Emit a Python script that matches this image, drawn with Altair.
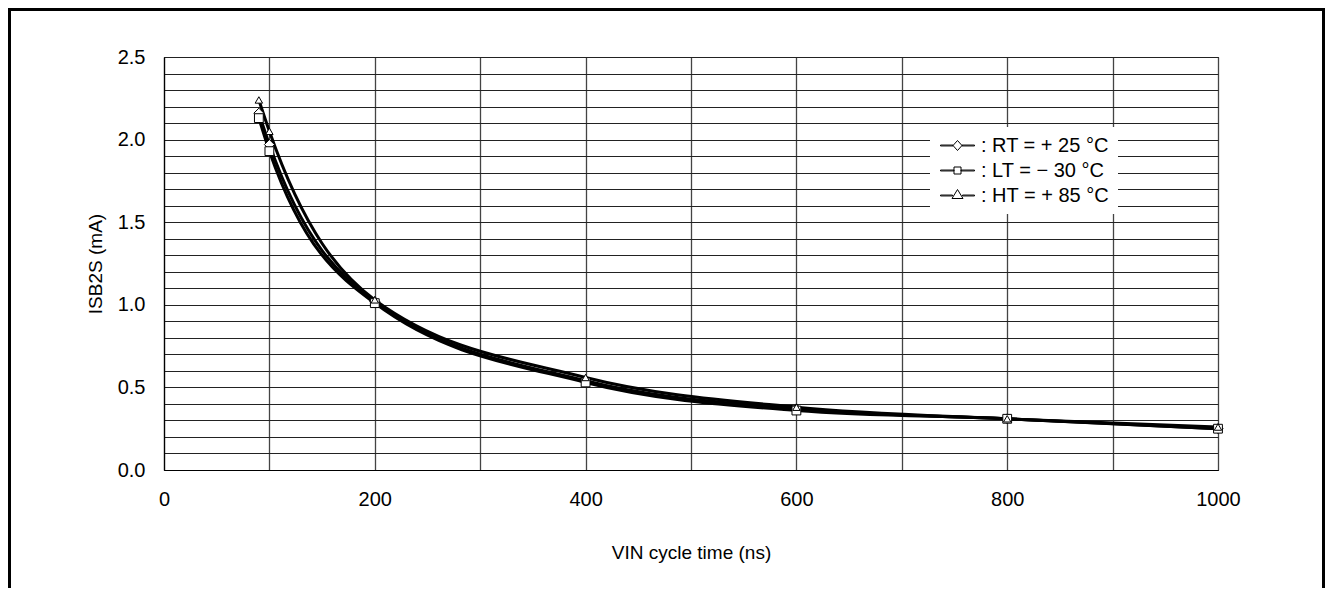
import altair as alt
import pandas as pd

# ---- data ----
cycle_ns = [90, 100, 200, 400, 600, 800, 1000]
rt_25 = [2.16, 1.97, 1.02, 0.54, 0.37, 0.31, 0.25]
lt_m30 = [2.13, 1.93, 1.01, 0.53, 0.36, 0.31, 0.25]
ht_85 = [2.24, 2.05, 1.03, 0.56, 0.38, 0.31, 0.26]
series_names = [": RT = + 25 °C", ": LT = \u2212 30 °C", ": HT = + 85 °C"]

rows = []
for name, vals in zip(series_names, [rt_25, lt_m30, ht_85]):
    for t, v in zip(cycle_ns, vals):
        rows.append({"t": t, "v": v, "series": name})
df = pd.DataFrame(rows)

W, H = 1054, 413
FONT = "Liberation Sans"

x_axis = alt.Axis(values=list(range(0, 1001, 100)), format="d",
                  labelExpr="datum.value % 200 == 0 ? datum.label : ''",
                  title="VIN cycle time (ns)", grid=True, ticks=False, labelFlush=False,
                  tickSize=0, labelPadding=19, titlePadding=34,
                  gridColor="#444", gridWidth=1.3, labelOverlap=False)
y_axis = alt.Axis(values=[i / 10 for i in range(26)],
                  labelExpr="round(datum.value*10) % 5 == 0 ? format(datum.value, '.1f') : ''",
                  title="ISB2S (mA)", grid=True, ticks=False, labelFlush=False,
                  tickSize=0, labelPadding=19, titlePadding=12,
                  gridColor="#222", gridWidth=1, labelOverlap=False)
x_enc = alt.X("t:Q", scale=alt.Scale(domain=[0, 1000], nice=False), axis=x_axis)
y_enc = alt.Y("v:Q", scale=alt.Scale(domain=[0, 2.5], nice=False), axis=y_axis)

frame = alt.Chart(df).mark_rect(fill=None, stroke="black", strokeWidth=2.5).encode(
    x=alt.value(-155), x2=alt.value(W + 106), y=alt.value(-48), y2=alt.value(H + 300)
)

lines = alt.Chart(df).mark_line(interpolate="monotone", color="black", strokeWidth=3).encode(
    x=x_enc, y=y_enc, detail="series:N"
)

points = alt.Chart(df).mark_point(filled=True, fill="white", stroke="black",
                                  strokeWidth=1, opacity=1).encode(
    x=x_enc, y=y_enc,
    shape=alt.Shape("series:N", scale=alt.Scale(domain=series_names,
                                                range=["diamond", "square", "triangle-up"]),
                    legend=None),
    size=alt.Size("series:N", scale=alt.Scale(domain=series_names, range=[100, 55, 110]),
                  legend=None),
)

leg_paths = [
    "M-1.7,-0.045H-0.45V0.045H-1.7ZM-0.45,0L0,-0.5L0.45,0L0,0.5ZM0.45,-0.045H1.7V0.045H0.45Z",
    "M-1.7,-0.045H-0.35V0.045H-1.7ZM-0.35,-0.35H0.35V0.35H-0.35ZM0.35,-0.045H1.7V0.045H0.35Z",
    "M-1.7,-0.045H-0.5V0.045H-1.7ZM-0.55,0.3L0,-0.6L0.55,0.3ZM0.5,-0.045H1.7V0.045H0.5Z",
]

# legend-only layer: its points sit outside the x domain and are clipped away
legend_layer = alt.Chart(df).transform_calculate(tl="-500").mark_point(
    filled=False, color="black", strokeWidth=1, opacity=1, clip=True).encode(
    x=alt.X("tl:Q", scale=alt.Scale(domain=[0, 1000], nice=False), axis=x_axis),
    y=y_enc,
    shape=alt.Shape("series:N", scale=alt.Scale(domain=series_names, range=leg_paths),
                    legend=alt.Legend(title=None, orient="none", legendX=766, legendY=70,
                                      fillColor="white", padding=8, symbolSize=400,
                                      symbolStrokeColor="black",
                                      symbolStrokeWidth=1, symbolOpacity=1, labelOffset=13,
                                      labelFontSize=20, labelFont=FONT, labelColor="black",
                                      rowPadding=4, offset=0, labelLimit=300,
                                      symbolOffset=9)),
)

chart = alt.layer(frame, lines, points, legend_layer).resolve_scale(
    shape="independent", size="independent"
).properties(
    width=W, height=H, background="white",
    autosize=alt.AutoSizeParams(type="none"),
    padding={"left": 156, "top": 49, "right": 107, "bottom": 118},
).configure_view(stroke="black", strokeWidth=1).configure_axis(
    domainColor="black", domainWidth=1.2, labelFont=FONT, titleFont=FONT,
    labelFontSize=20, titleFontSize=19, titleFontWeight="normal",
    labelColor="black", titleColor="black",
)

chart.save("out.html", embed_options={"renderer": "svg", "actions": False})
